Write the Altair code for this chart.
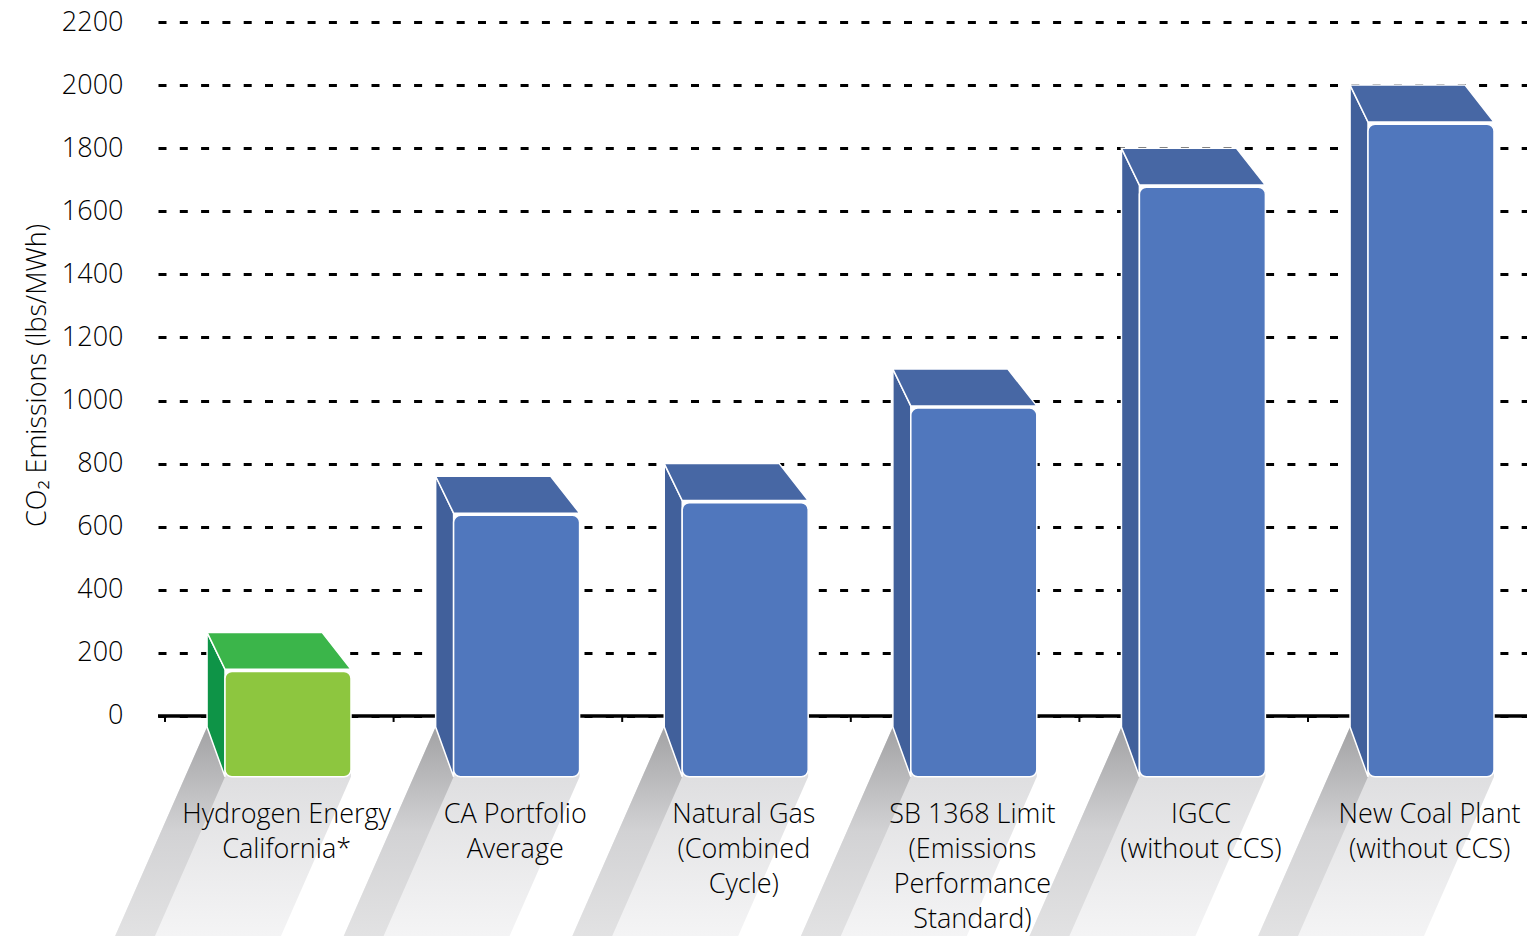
import altair as alt
import pandas as pd

# ---------------- data ----------------
categories = [
    "Hydrogen Energy\nCalifornia*",
    "CA Portfolio\nAverage",
    "Natural Gas\n(Combined\nCycle)",
    "SB 1368 Limit\n(Emissions\nPerformance\nStandard)",
    "IGCC\n(without CCS)",
    "New Coal Plant\n(without CCS)",
]
values = [265, 760, 800, 1100, 1800, 2000]
kinds = ["hydrogen", "other", "other", "other", "other", "other"]
y_ticks = list(range(0, 2201, 200))

# ---------------- styles ----------------
FACE = {
    "hydrogen": {"front": "#8DC63F", "top": "#3BB54A", "side": "#0E9447"},
    "other": {"front": "#5077BD", "top": "#4767A4", "side": "#41609B"},
}
FONT = "Open Sans"
TXT = "#000000"

# 3-D geometry (relative to each category band, band width = 1 x-unit)
XS, XFL, XFR, XBR = 0.184, 0.2625, 0.8136, 0.687
TOP_DEPTH = 117      # y-units
FRONT_GAP = 124
FRONT_BOTTOM = -193
SIDE_BOTTOM = -35
Y_MIN = -697.5
SLOPE = 0.000607     # x-units per y-unit of shadow drift
LABEL_X = 0.532
LABEL_Y = -339

front_rows, top_rows, side_rows, shadow_rows, strip_rows, label_rows = [], [], [], [], [], []
for i, (cat, v, k) in enumerate(zip(categories, values, kinds)):
    b = i
    c = FACE[k]
    front_rows.append(dict(cat=cat, x=b + XFL, x2=b + XFR, y=v - FRONT_GAP, y2=FRONT_BOTTOM, color=c["front"]))
    top_rows += [
        dict(cat=cat, y=v, x=b + XS, x2=b + XBR, color=c["top"]),
        dict(cat=cat, y=v - TOP_DEPTH, x=b + XFL, x2=b + XFR, color=c["top"]),
    ]
    side_rows += [
        dict(cat=cat, x=b + XS, y=v, y2=SIDE_BOTTOM, color=c["side"]),
        dict(cat=cat, x=b + XFL, y=v - TOP_DEPTH, y2=FRONT_BOTTOM, color=c["side"]),
    ]
    d1 = SIDE_BOTTOM - FRONT_BOTTOM
    d2 = SIDE_BOTTOM - Y_MIN
    d3 = FRONT_BOTTOM - Y_MIN
    shadow_rows += [
        dict(cat=cat, y=SIDE_BOTTOM, x=b + XS, x2=b + XFR),
        dict(cat=cat, y=FRONT_BOTTOM, x=b + XS - SLOPE * d1, x2=b + XFR),
        dict(cat=cat, y=Y_MIN, x=b + XS - SLOPE * d2, x2=b + XFR - SLOPE * d3),
    ]
    strip_rows += [
        dict(cat=cat, y=SIDE_BOTTOM, x=b + XS, x2=b + XS),
        dict(cat=cat, y=FRONT_BOTTOM, x=b + XS - SLOPE * d1, x2=b + XFL),
        dict(cat=cat, y=Y_MIN, x=b + XS - SLOPE * d2, x2=b + XFL - SLOPE * d3),
    ]
    label_rows.append(dict(cat=cat, x=b + LABEL_X, y=LABEL_Y))

front_df = pd.DataFrame(front_rows)
top_df = pd.DataFrame(top_rows)
side_df = pd.DataFrame(side_rows)
shadow_df = pd.DataFrame(shadow_rows)
strip_df = pd.DataFrame(strip_rows)
label_df = pd.DataFrame(label_rows)
tick_df = pd.DataFrame({"x": list(range(len(categories))), "y": 0, "y2": -19})
base_df = pd.DataFrame({"y": [0]})

xscale = alt.Scale(domain=[-0.0306, 5.958], nice=False, zero=False)
yscale = alt.Scale(domain=[Y_MIN, 2200], nice=False, zero=False)

TITLE = "CO₂ Emissions (lbs/MWh)"
yaxis = alt.Axis(
    values=y_ticks, format="d", title=TITLE, grid=True,
    gridDash=[8, 13.3], gridColor="black", gridWidth=2.8,
    ticks=False, domain=False,
    labelFontSize=27, labelFont=FONT, labelFontWeight=300, labelColor=TXT, labelPadding=35,
    titleFontSize=27, titleFont=FONT, titleFontWeight=300, titleColor=TXT,
    titleX=-113, titleY=353, titleAngle=270, titleBaseline="alphabetic", titleAlign="center",
)

X = lambda f: alt.X(f, type="quantitative", scale=xscale, axis=None)
Y = lambda f: alt.Y(f, type="quantitative", scale=yscale, axis=yaxis, title=TITLE)

shadow = alt.Chart(shadow_df).mark_area(
    orient="horizontal",
    color=alt.Gradient(gradient="linear", x1=0, x2=0, y1=0, y2=1,
                       stops=[alt.GradientStop(color="#d8d8da", offset=0),
                              alt.GradientStop(color="#f4f4f5", offset=1)]),
).encode(y=Y("y"), x=X("x"), x2="x2", detail="cat:N")

strip = alt.Chart(strip_df).mark_area(
    orient="horizontal",
    color=alt.Gradient(gradient="linear", x1=0, x2=0, y1=0, y2=1,
                       stops=[alt.GradientStop(color="#a2a2a4", offset=0),
                              alt.GradientStop(color="#d2d2d4", offset=0.5),
                              alt.GradientStop(color="#e2e2e3", offset=1)]),
).encode(y=Y("y"), x=X("x"), x2="x2", detail="cat:N")

baseline = alt.Chart(base_df).mark_rule(color="black", strokeWidth=3.5).encode(y=Y("y"))
ticks = alt.Chart(tick_df).mark_rule(color="black", strokeWidth=2).encode(x=X("x"), y=Y("y"), y2="y2")

side = alt.Chart(side_df).mark_area(stroke="white", strokeWidth=1.5).encode(
    x=X("x"), y=Y("y"), y2="y2", color=alt.Color("color:N", scale=None), detail="cat:N")

top = alt.Chart(top_df).mark_area(orient="horizontal", stroke="white", strokeWidth=1.5).encode(
    y=Y("y"), x=X("x"), x2="x2", color=alt.Color("color:N", scale=None), detail="cat:N")

front = alt.Chart(front_df).mark_rect(cornerRadius=7, stroke="white", strokeWidth=1.5).encode(
    x=X("x"), x2="x2", y=Y("y"), y2="y2", color=alt.Color("color:N", scale=None))

labels = alt.Chart(label_df).mark_text(
    lineBreak="\n", font=FONT, fontSize=27, fontWeight=300, color=TXT, align="center",
    baseline="alphabetic", lineHeight=35,
).encode(x=X("x"), y=Y("y"), text="cat:N")

chart = alt.layer(shadow, strip, baseline, ticks, side, top, front, labels).properties(
    width=1369, height=914,
    autosize=alt.AutoSizeParams(type="none"),
    padding={"left": 150, "top": 14, "right": 0, "bottom": 0},
).configure_view(stroke=None)

chart.save("out.html", embed_options={"renderer": "svg", "actions": False})
